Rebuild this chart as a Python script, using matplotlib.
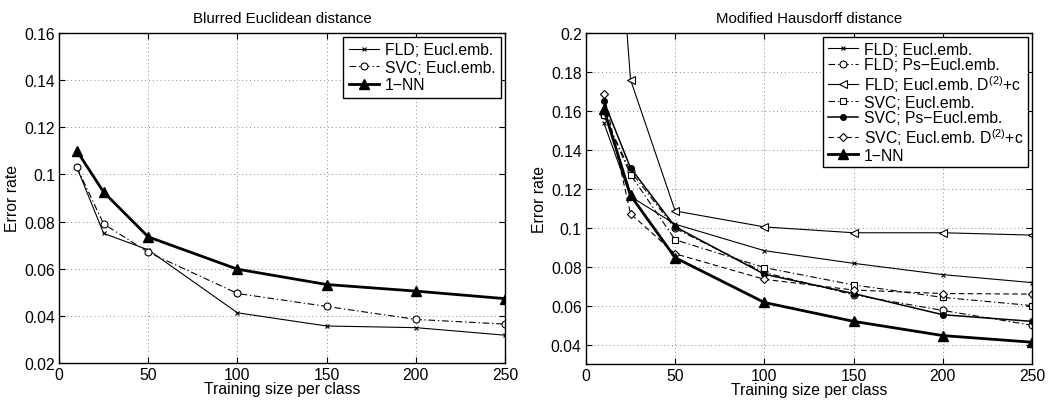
import matplotlib
matplotlib.use("Agg")
import matplotlib.pyplot as plt

plt.rcParams['font.family'] = ['Liberation Sans', 'DejaVu Sans']
plt.rcParams['mathtext.fontset'] = 'custom'
plt.rcParams['mathtext.rm'] = 'Liberation Sans'

x = [10, 25, 50, 100, 150, 200, 250]

# Left panel: Blurred Euclidean distance
left_fld = [0.103, 0.075, 0.068, 0.0413, 0.0357, 0.0350, 0.0318]
left_svc = [0.103, 0.079, 0.067, 0.0495, 0.0440, 0.0385, 0.0365]
left_nn = [0.110, 0.0925, 0.0735, 0.0598, 0.0533, 0.0505, 0.0473]

# Right panel: Modified Hausdorff distance
r_fld_e = [0.154, 0.116, 0.1018, 0.0882, 0.0817, 0.0759, 0.0718]
r_fld_ps = [0.158, 0.129, 0.0996, 0.0770, 0.0655, 0.0575, 0.0499]
r_fld_d2 = [0.36, 0.176, 0.1086, 0.1004, 0.0974, 0.0974, 0.0962]
r_svc_e = [0.158, 0.1273, 0.0938, 0.0795, 0.0706, 0.0642, 0.0600]
r_svc_ps = [0.165, 0.1307, 0.1005, 0.0761, 0.0662, 0.0553, 0.0519]
r_svc_d2 = [0.1689, 0.1072, 0.0866, 0.0735, 0.0680, 0.0662, 0.0659]
r_nn = [0.161, 0.1166, 0.0846, 0.0616, 0.0519, 0.0446, 0.0412]

left_labels = ['FLD; Eucl.emb.', 'SVC; Eucl.emb.', '1\u2212NN']
right_labels = ['FLD; Eucl.emb.', 'FLD; Ps\u2212Eucl.emb.',
                'FLD; Eucl.emb. D$^{(2)}$+c', 'SVC; Eucl.emb.',
                'SVC; Ps\u2212Eucl.emb.', 'SVC; Eucl.emb. D$^{(2)}$+c', '1\u2212NN']

FS = 11.3

fig = plt.figure(figsize=(10.5, 4.02), dpi=100)
ax1 = fig.add_axes([0.0562, 0.0945, 0.4248, 0.821])
ax2 = fig.add_axes([0.558, 0.0920, 0.425, 0.8235])

dashdot = (0, (6, 2.5, 1.2, 2.5))
dashed = (0, (5, 3))

def style(ax):
    ax.grid(True, linestyle=(0, (1, 3)), color='#888888', linewidth=0.7)
    ax.tick_params(direction='in', top=True, right=True, labelsize=FS, length=4, pad=3)
    for s in ax.spines.values():
        s.set_linewidth(1.0)
    ax.set_xlabel('Training size per class', fontsize=FS, labelpad=-1)
    ax.set_ylabel('Error rate', fontsize=FS, labelpad=3)

ax1.plot(x, left_fld, color='black', lw=0.8, marker='x', ms=3.5, mew=0.8, label=left_labels[0])
ax1.plot(x, left_svc, color='black', lw=0.8, ls=dashdot, marker='o', ms=5, mfc='white', mew=0.8, label=left_labels[1])
ax1.plot(x, left_nn, color='black', lw=2.0, marker='^', ms=7, mfc='black', label=left_labels[2])
ax1.set_xlim(0, 250)
ax1.set_ylim(0.02, 0.16)
ax1.set_xticks([0, 50, 100, 150, 200, 250])
ax1.set_yticks([0.02, 0.04, 0.06, 0.08, 0.1, 0.12, 0.14, 0.16])
ax1.set_yticklabels(['0.02', '0.04', '0.06', '0.08', '0.1', '0.12', '0.14', '0.16'])
ax1.set_title('Blurred Euclidean distance', fontsize=10.8, pad=8)
style(ax1)
leg1 = ax1.legend(loc='upper right', fontsize=FS, fancybox=False, edgecolor='black',
                  framealpha=1, handlelength=1.9, borderaxespad=0.25, labelspacing=0.15,
                  handletextpad=0.4, borderpad=0.35)
leg1.get_frame().set_linewidth(1.0)

ax2.plot(x, r_fld_e, color='black', lw=0.8, marker='x', ms=3.5, mew=0.8, label=right_labels[0])
ax2.plot(x, r_fld_ps, color='black', lw=0.8, ls=dashdot, marker='o', ms=5, mfc='white', mew=0.8, label=right_labels[1])
ax2.plot(x, r_fld_d2, color='black', lw=0.8, marker='<', ms=6, mfc='white', mew=0.8, label=right_labels[2])
ax2.plot(x, r_svc_e, color='black', lw=0.8, ls=dashdot, marker='s', ms=5, mfc='white', mew=0.8, label=right_labels[3])
ax2.plot(x, r_svc_ps, color='black', lw=1.1, marker='o', ms=4, mfc='black', label=right_labels[4])
ax2.plot(x, r_svc_d2, color='black', lw=0.8, ls=dashed, marker='D', ms=4.5, mfc='white', mew=0.8, label=right_labels[5])
ax2.plot(x, r_nn, color='black', lw=2.0, marker='^', ms=7, mfc='black', label=right_labels[6])
ax2.set_xlim(0, 250)
ax2.set_ylim(0.03, 0.2)
ax2.set_xticks([0, 50, 100, 150, 200, 250])
ax2.set_yticks([0.04, 0.06, 0.08, 0.1, 0.12, 0.14, 0.16, 0.18, 0.2])
ax2.set_yticklabels(['0.04', '0.06', '0.08', '0.1', '0.12', '0.14', '0.16', '0.18', '0.2'])
ax2.set_title('Modified Hausdorff distance', fontsize=10.8, pad=8)
style(ax2)
leg2 = ax2.legend(loc='upper right', fontsize=FS, fancybox=False, edgecolor='black',
                  framealpha=1, handlelength=1.9, borderaxespad=0.25, labelspacing=0.05,
                  handletextpad=0.4, borderpad=0.3)
leg2.get_frame().set_linewidth(1.0)

fig.savefig('out.png', dpi=100)
